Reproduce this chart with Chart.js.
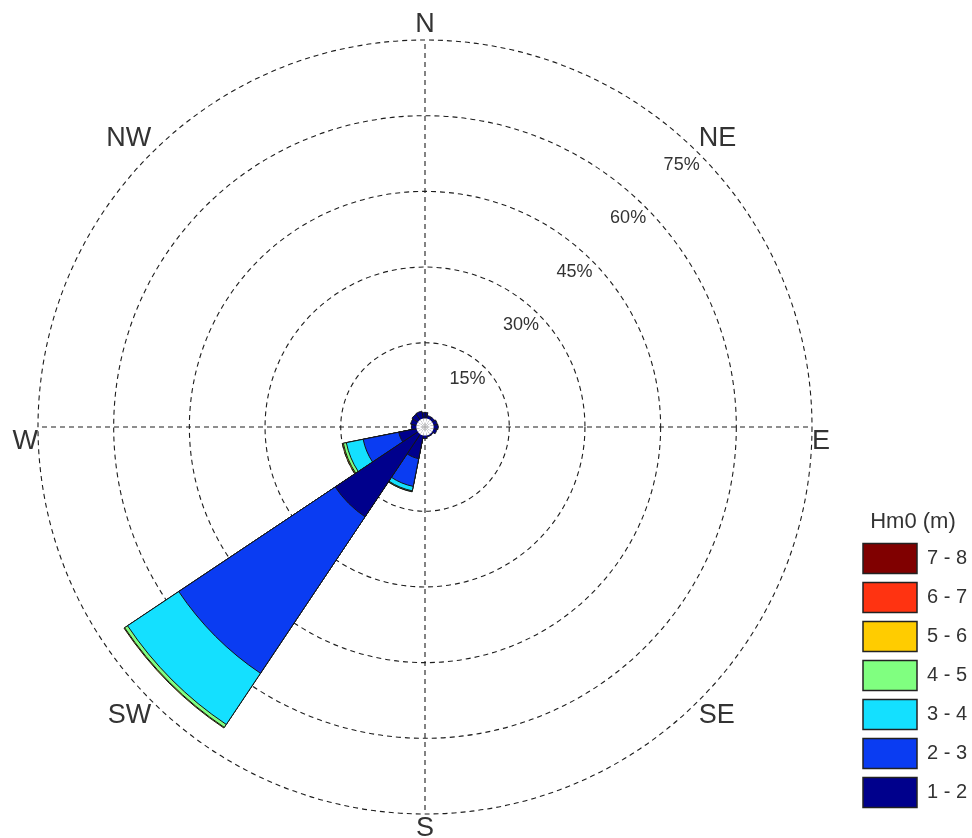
<!DOCTYPE html>
<html>
<head>
<meta charset="utf-8">
<script src="https://cdn.jsdelivr.net/npm/chart.js@4/dist/chart.umd.min.js"></script>
<style>
  html, body { margin: 0; padding: 0; background: #fff; overflow: hidden; }
  #wrap { width: 972px; height: 838px; position: relative; overflow: hidden; }
  #c { position: absolute; left: -10px; top: 10px; }
</style>
</head>
<body>
<div id="wrap"><canvas id="c" width="982" height="834"></canvas></div>
<script>
// ---- data (percent of occurrence per direction, per Hm0 class) ----
const directions = ['N','NNE','NE','ENE','E','ESE','SE','SSE','S','SSW','SW','WSW','W','WNW','NW','NNW'];
const binLabels = ['1 - 2','2 - 3','3 - 4','4 - 5','5 - 6','6 - 7','7 - 8'];
const binColors = ['#00008c','#0a3cf2','#14e0ff','#80ff80','#ffcc00','#ff3311','#800000'];

const hm1to2 = [1.2, 0.6, 0.6, 0.8, 0.9, 0.7, 0.3, 0.3, 0.6, 4.7, 19.7, 3.6, 1.0, 1.2, 1.4, 1.5];
const hm2to3 = [0, 0, 0, 0, 0, 0, 0, 0, 0, 5.6, 37.3, 7.2, 0, 0, 0, 0];
const hm3to4 = [0, 0, 0, 0, 0, 0, 0, 0, 0, 0.9, 12.2, 3.4, 0, 0, 0, 0];
const hm4to5 = [0, 0, 0, 0, 0, 0, 0, 0, 0, 0.15, 0.7, 0.6, 0, 0, 0, 0];
const hm5to6 = [0, 0, 0, 0, 0, 0, 0, 0, 0, 0.05, 0.15, 0.2, 0, 0, 0, 0];
const hm6to7 = [0, 0, 0, 0, 0, 0, 0, 0, 0, 0, 0, 0, 0, 0, 0, 0];
const hm7to8 = [0, 0, 0, 0, 0, 0, 0, 0, 0, 0, 0, 0, 0, 0, 0, 0];

const ringTicks = [15, 30, 45, 60, 75];
const calmRadius = 1.7;   // calm circle, in % units of the radial axis

// ---- build stacked (cumulative) rings ----
const bins = [hm1to2, hm2to3, hm3to4, hm4to5, hm5to6, hm6to7, hm7to8];
const cumulative = [];
bins.forEach((b, k) => {
  cumulative.push(b.map((v, d) => v + (k > 0 ? cumulative[k - 1][d] : 0)));
});
// the first (N) sector is split in two halves so sectors are centred on their direction
const wrap = arr => arr.concat([arr[0]]);
const dirOf = i => i % 16;
const sliceAngle = ctx => (ctx.dataIndex === 0 || ctx.dataIndex === 16) ? 11.25 : 22.5;

const datasets = [{
  label: 'calm',
  data: wrap(directions.map(() => 0)),
  backgroundColor: '#ffffff',
  borderWidth: 0,
  angle: sliceAngle
}];
bins.forEach((b, k) => {
  datasets.push({
    label: binLabels[k],
    data: wrap(cumulative[k]),
    backgroundColor: ctx => b[dirOf(ctx.dataIndex)] > 0 ? binColors[k] : 'rgba(0,0,0,0)',
    borderColor: '#151515',
    borderWidth: ctx => b[dirOf(ctx.dataIndex)] > 0 ? 1 : 0,
    angle: sliceAngle
  });
});

const FONT = '"Liberation Sans", Arial, Helvetica, sans-serif';

const ringLabels = {
  id: 'ringLabels',
  afterDraw(chart) {
    const s = chart.scales.r;
    const ctx = chart.ctx;
    ctx.save();
    ctx.font = '18px ' + FONT;
    ctx.fillStyle = '#333';
    ctx.textAlign = 'right';
    ctx.textBaseline = 'middle';
    ringTicks.forEach(v => {
      const p = s.getPointPosition(2, s.getDistanceFromCenterForValue(v));
      ctx.fillText(v + '%', p.x + 1, p.y + 11.5);
    });
    ctx.restore();
  }
};

new Chart(document.getElementById('c'), {
  type: 'polarArea',
  data: { labels: directions, datasets },
  options: {
    responsive: false,
    animation: false,
    devicePixelRatio: 1,
    layout: { padding: 0 },
    scales: {
      r: {
        min: -calmRadius,
        max: 75,
        startAngle: 0,
        beginAtZero: false,
        afterBuildTicks: s => { s.ticks = ringTicks.map(v => ({ value: v })); },
        ticks: { display: false },
        grid: { display: true, circular: true, color: '#1e1e1e', lineWidth: 1.1 },
        border: { dash: [5, 4] },
        angleLines: {
          display: true,
          color: c => c.index % 4 === 0 ? '#1e1e1e' : 'rgba(0,0,0,0)',
          lineWidth: c => c.index % 4 === 0 ? 1.1 : 0,
          borderDash: [5, 4]
        },
        pointLabels: {
          display: true,
          padding: 0,
          color: '#333',
          font: { family: FONT, size: 27, lineHeight: '30px' },
          callback: (label, i) => {
            if (i % 2 !== 0) return '';
            if (i === 4 || i === 12) return ['', label];
            return label;
          }
        }
      }
    },
    plugins: {
      tooltip: { enabled: false },
      legend: {
        position: 'right',
        align: 'start',
        maxWidth: 118,
        title: {
          display: true,
          text: 'Hm0 (m)',
          color: '#333',
          font: { family: FONT, size: 22 },
          padding: { top: 501, bottom: -3 }
        },
        labels: {
          boxWidth: 54,
          boxHeight: 30,
          padding: 9,
          color: '#333',
          font: { family: FONT, size: 20 },
          generateLabels: () => binLabels.map((t, i) => ({
            text: t,
            fillStyle: binColors[i],
            strokeStyle: '#222',
            lineWidth: 1.5,
            hidden: false,
            datasetIndex: i + 1
          })).reverse()
        }
      }
    }
  },
  plugins: [ringLabels]
});
</script>
</body>
</html>
